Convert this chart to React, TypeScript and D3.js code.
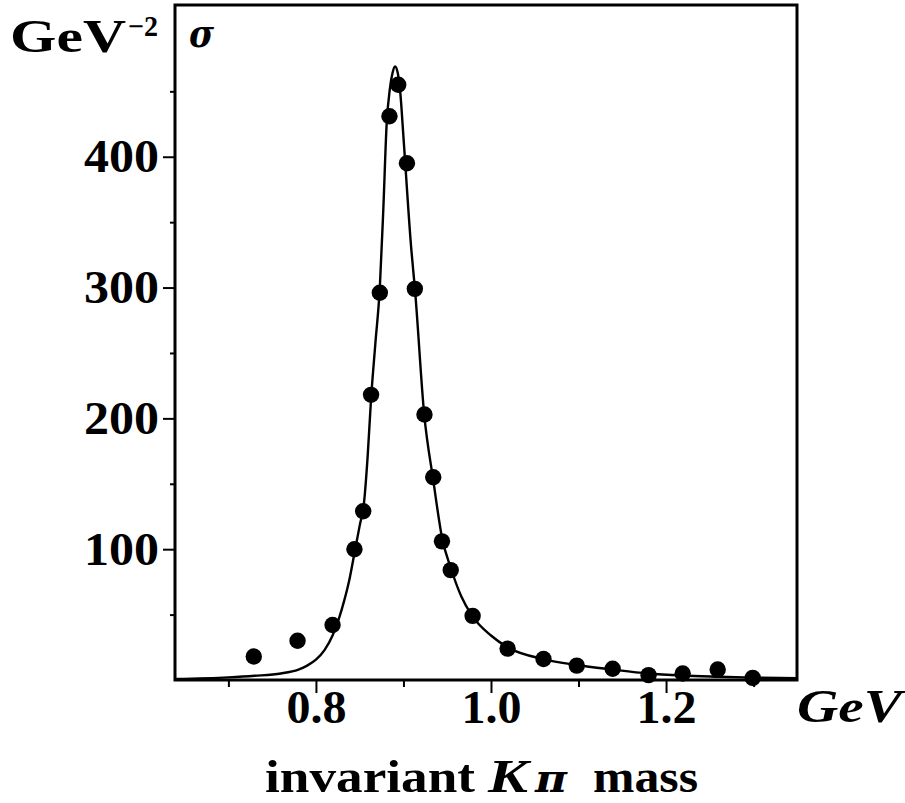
import React, { useEffect, useRef } from 'react'
import * as d3 from 'd3'

// measured cross section (points)
const pointMass = [0.729, 0.779, 0.819, 0.844, 0.854, 0.863, 0.873, 0.884, 0.894, 0.904,
  0.913, 0.924, 0.934, 0.944, 0.954, 0.979, 1.019, 1.06, 1.098, 1.139,
  1.18, 1.219, 1.259, 1.299]
const pointSigma = [18, 30, 42, 100, 129, 218, 296, 431, 455, 395,
  299, 203, 155, 106, 84, 49, 24, 16, 11, 8.6,
  3.7, 5, 8, 1.6]

// fitted curve
const curveMass = [0.639, 0.7, 0.73, 0.76, 0.78, 0.79, 0.8, 0.81, 0.819, 0.8295,
  0.838, 0.8443, 0.85, 0.855, 0.859, 0.863, 0.868, 0.873, 0.877, 0.8808,
  0.8845, 0.8875, 0.8904, 0.8935, 0.8965, 0.9, 0.909, 0.9131, 0.9237, 0.934,
  0.9443, 0.9539, 0.966, 0.9785, 1.0, 1.019, 1.06, 1.098, 1.139, 1.179,
  1.219, 1.26, 1.3, 1.35]
const curveSigma = [0.8, 2.0, 3.2, 5.0, 8.0, 11, 15.5, 23, 34, 54,
  76, 98, 118, 136, 170, 215, 258, 300, 360, 425,
  452, 464, 469, 464, 448, 415, 329, 299, 203, 153,
  108, 86, 64, 49, 34, 25, 16, 11.5, 8, 5,
  3.4, 2.5, 1.8, 1.3]

const xMajorTicks = [0.8, 1.0, 1.2]
const xMinorTicks = [0.7, 0.9, 1.1, 1.3]
const yMajorTicks = [100, 200, 300, 400]
const yMinorTicks = [50, 150, 250, 350, 450]

const width = 905
const height = 803
const margin = { top: 5, right: 108, bottom: 123, left: 175 }
const FONT = '"Liberation Serif", "Times New Roman", serif'
const GREEK = '"DejaVu Serif", serif'

export default function App() {
  const svgRef = useRef<SVGSVGElement>(null)

  useEffect(() => {
    const svg = d3.select(svgRef.current)
    svg.selectAll('*').remove()

    const chartWidth = width - margin.left - margin.right
    const chartHeight = height - margin.top - margin.bottom

    const xScale = d3.scaleLinear().domain([0.639, 1.3496]).range([0, chartWidth])
    const yScale = d3.scaleLinear().domain([0, 516]).range([chartHeight, 0])

    const g = svg.append('g').attr('transform', `translate(${margin.left},${margin.top})`)

    // x axis
    const xMajor = g.append('g')
      .attr('transform', `translate(0,${chartHeight})`)
      .call(d3.axisBottom(xScale).tickValues(xMajorTicks).tickSize(13).tickFormat(d3.format('.1f')))
    const xMinor = g.append('g')
      .attr('transform', `translate(0,${chartHeight})`)
      .call(d3.axisBottom(xScale).tickValues(xMinorTicks).tickSize(7).tickFormat(() => ''))

    // y axis
    const yMajor = g.append('g')
      .call(d3.axisLeft(yScale).tickValues(yMajorTicks).tickSize(12).tickPadding(4).tickFormat(d3.format('d')))
    const yMinor = g.append('g')
      .call(d3.axisLeft(yScale).tickValues(yMinorTicks).tickSize(5).tickFormat(() => ''))

    ;[xMajor, xMinor, yMajor, yMinor].forEach(ax => {
      ax.select('.domain').remove()
      ax.selectAll('line').attr('stroke', '#000').attr('stroke-width', 2)
    })
    xMajor.selectAll('text')
      .attr('y', 43).attr('dy', 0)
      .attr('textLength', 60).attr('lengthAdjust', 'spacingAndGlyphs')
      .attr('font-family', FONT).attr('font-weight', 'bold').attr('font-size', 46).attr('fill', '#000')
    yMajor.selectAll('text')
      .attr('dy', '0.33em')
      .attr('textLength', 75).attr('lengthAdjust', 'spacingAndGlyphs')
      .attr('font-family', FONT).attr('font-weight', 'bold').attr('font-size', 46).attr('fill', '#000')

    // frame
    g.append('rect')
      .attr('x', 0).attr('y', 0)
      .attr('width', chartWidth).attr('height', chartHeight)
      .attr('fill', 'none').attr('stroke', '#000').attr('stroke-width', 3)

    // fit curve
    const line = d3.line<number>()
      .x(i => xScale(curveMass[i]))
      .y(i => yScale(curveSigma[i]))
      .curve(d3.curveMonotoneX)
    g.append('path')
      .datum(d3.range(curveMass.length))
      .attr('d', line)
      .attr('fill', 'none')
      .attr('stroke', '#000')
      .attr('stroke-width', 2.4)

    // data points
    g.selectAll('circle.pt')
      .data(d3.range(pointMass.length))
      .join('circle')
      .attr('class', 'pt')
      .attr('cx', i => xScale(pointMass[i]))
      .attr('cy', i => yScale(pointSigma[i]))
      .attr('r', 8.2)
      .attr('fill', '#000')

    // labels
    const label = (txt: string, x: number, y: number, size: number, len: number,
      italic = false, family = FONT) =>
      svg.append('text')
        .attr('x', x).attr('y', y)
        .attr('font-family', family)
        .attr('font-weight', 'bold')
        .attr('font-style', italic ? 'italic' : 'normal')
        .attr('font-size', size)
        .attr('textLength', len)
        .attr('lengthAdjust', 'spacingAndGlyphs')
        .attr('fill', '#000')
        .text(txt)

    label('GeV', 10, 52, 46, 116)
    label('\u22122', 128, 36, 29, 30)
    label('\u03c3', 189, 47, 40, 25, true, GREEK)
    label('GeV', 797, 722, 46, 105, true)
    label('invariant', 265, 792, 46, 210)
    label('K', 488, 792, 46, 40, true)
    label('\u03c0', 535, 792, 40, 32, true, GREEK)
    label('mass', 593, 792, 46, 105)
  }, [])

  return (
    <svg
      ref={svgRef}
      width={width}
      height={height}
      style={{ position: 'absolute', left: 0, top: 0, background: '#fff' }}
    />
  )
}
